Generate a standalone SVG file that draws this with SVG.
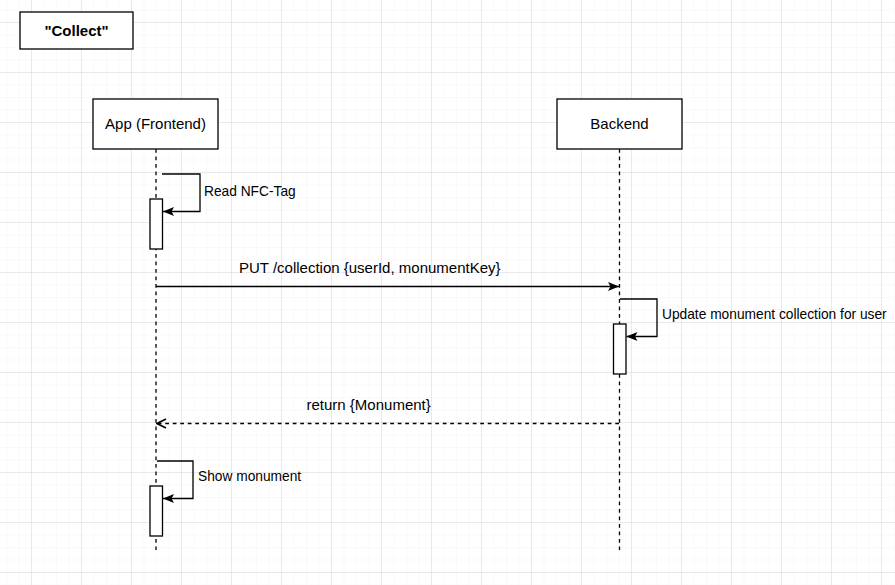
<svg xmlns="http://www.w3.org/2000/svg" width="895" height="585" viewBox="0 0 895 585">
<defs>
  <pattern id="minor" x="7" y="10.5" width="12.5" height="12.5" patternUnits="userSpaceOnUse">
    <path d="M12.5 0 V12.5 M0 12.5 H12.5" fill="none" stroke="#f4f4f4" stroke-width="1"/>
  </pattern>
  <pattern id="major" x="-18" y="-27" width="50" height="50" patternUnits="userSpaceOnUse">
    <path d="M50 0 V50 M0 50 H50" fill="none" stroke="#d9d9d9" stroke-width="1"/>
  </pattern>
  <marker id="block" viewBox="0 0 11 9" refX="11" refY="4.5" markerWidth="11" markerHeight="9" markerUnits="userSpaceOnUse" orient="auto">
    <path d="M0 0 L11 4.5 L0 9 L2.5 4.5 Z" fill="#000"/>
  </marker>
  <marker id="open" viewBox="0 0 11 11" refX="10" refY="5.5" markerWidth="11" markerHeight="11" markerUnits="userSpaceOnUse" orient="auto">
    <path d="M1 1 L10 5.5 L1 10" fill="none" stroke="#000" stroke-width="1.6"/>
  </marker>
</defs>
<style>
  .box { fill: #fff; stroke: #000; stroke-width: 1.3; }
  .act { fill: #fff; stroke: #000; stroke-width: 1.3; }
  .life { stroke: #000; stroke-width: 1.3; stroke-dasharray: 3.75 3.75; fill: none; }
  .msg { stroke: #000; stroke-width: 1.3; fill: none; }
  .ret { stroke: #000; stroke-width: 1.3; fill: none; stroke-dasharray: 3.75 3.75; }
  text { font-family: "Liberation Sans", Arial, sans-serif; font-size: 15px; fill: #000; }
  .lbl { font-size: 13.75px; }
  .title { font-weight: bold; }
</style>
<rect width="895" height="585" fill="#fff"/>
<rect width="895" height="585" fill="url(#minor)"/>
<rect width="895" height="585" fill="url(#major)"/>

<g id="title">
  <rect class="box" x="20" y="12" width="113" height="37"/>
  <text class="title" x="76.5" y="35.5" text-anchor="middle">"Collect"</text>
</g>

<g id="app">
  <line class="life" x1="156" y1="149" x2="156" y2="550"/>
  <rect class="box" x="93" y="99" width="125" height="50"/>
  <text x="155.5" y="129" text-anchor="middle">App (Frontend)</text>
</g>

<g id="backend">
  <line class="life" x1="619.5" y1="149" x2="619.5" y2="550"/>
  <rect class="box" x="557" y="99" width="125" height="50"/>
  <text x="619.5" y="129" text-anchor="middle">Backend</text>
</g>

<g id="activation-app-1">
  <rect class="act" x="150" y="199" width="12.5" height="50"/>
</g>
<g id="activation-backend">
  <rect class="act" x="613.5" y="324" width="12.5" height="50"/>
</g>
<g id="activation-app-2">
  <rect class="act" x="150" y="486" width="12.5" height="50"/>
</g>

<g id="connectors">
  <path class="msg" d="M162 174 H200 V211.5 H163" marker-end="url(#block)"/>
  <text class="lbl" x="204" y="196">Read NFC-Tag</text>

  <path class="msg" d="M156 286.5 H619" marker-end="url(#block)"/>
  <text x="239" y="273">PUT /collection {userId, monumentKey}</text>

  <path class="msg" d="M620 299 H657 V336.5 H626.5" marker-end="url(#block)"/>
  <text class="lbl" x="662" y="319">Update monument collection for user</text>

  <path class="ret" d="M619 423.5 H157" marker-end="url(#open)"/>
  <text x="306.5" y="410">return {Monument}</text>

  <path class="msg" d="M157 461 H193 V498.5 H163" marker-end="url(#block)"/>
  <text class="lbl" x="198" y="481">Show monument</text>
</g>
</svg>
